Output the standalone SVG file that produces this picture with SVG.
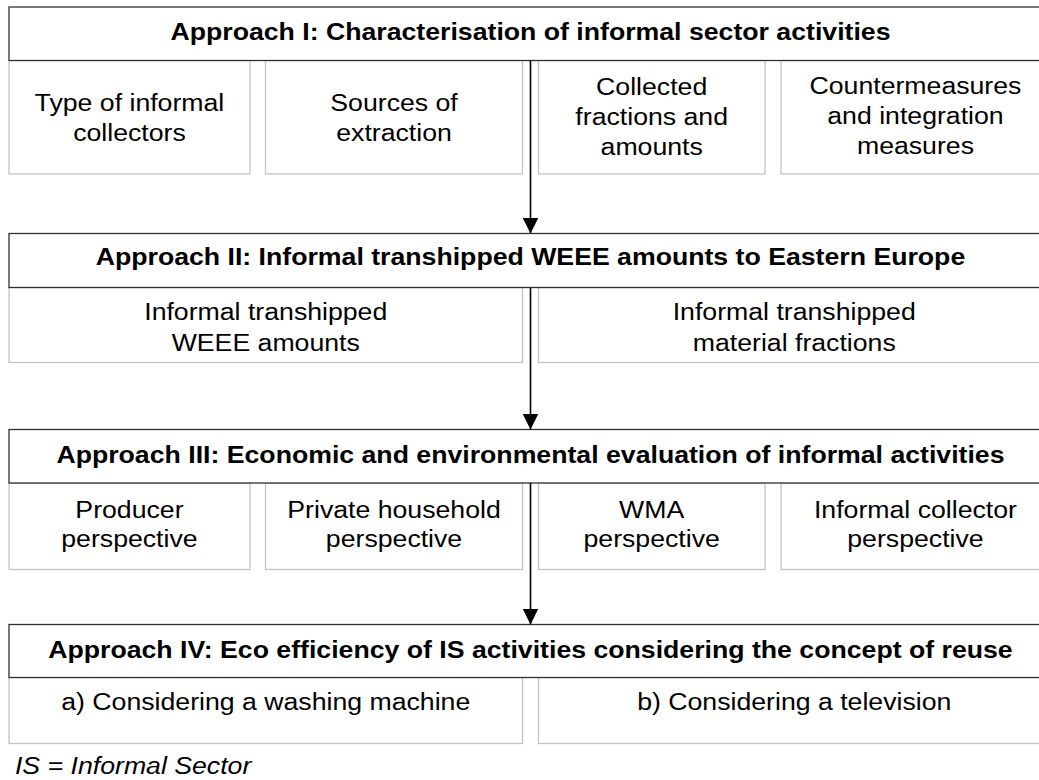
<svg xmlns="http://www.w3.org/2000/svg" width="1039" height="780" viewBox="0 0 1039 780">
  <style>
    .hdr { fill: #ffffff; stroke: #303030; stroke-width: 1.3; }
    .sub { fill: #ffffff; stroke: #c4c4c4; stroke-width: 1.3; }
    .t { font-family: "Liberation Sans", Arial, sans-serif; font-size: 23px; fill: #000000; text-anchor: middle; }
    .b { font-weight: bold; }
    .l { text-anchor: start; }
    .i { font-style: italic; }
    .link { stroke: #000000; stroke-width: 1.6; fill: none; }
  </style>
  <defs>
    <marker id="head" markerUnits="userSpaceOnUse" markerWidth="16" markerHeight="16" refX="16" refY="8" orient="auto">
      <path d="M0,0 L16,8 L0,16 z" fill="#000000"/>
    </marker>
  </defs>
  <rect width="1039" height="780" fill="#ffffff"/>

  <!-- Approach I -->
  <g id="approach1">
    <rect class="sub" x="9" y="60.5" width="241" height="113.5"/>
    <rect class="sub" x="265.5" y="60.5" width="257" height="113.5"/>
    <rect class="sub" x="538.5" y="60.5" width="226.5" height="113.5"/>
    <rect class="sub" x="781" y="60.5" width="269" height="113.5"/>
    <rect class="hdr" x="9" y="7" width="1043" height="53.5"/>
  </g>

  <!-- Approach II -->
  <g id="approach2">
    <rect class="sub" x="9" y="287.5" width="513.5" height="75"/>
    <rect class="sub" x="538.5" y="287.5" width="511.5" height="75"/>
    <rect class="hdr" x="9" y="233.5" width="1043" height="54"/>
  </g>

  <!-- Approach III -->
  <g id="approach3">
    <rect class="sub" x="9" y="483" width="241" height="86.5"/>
    <rect class="sub" x="265.5" y="483" width="257" height="86.5"/>
    <rect class="sub" x="538.5" y="483" width="226.5" height="86.5"/>
    <rect class="sub" x="781" y="483" width="269" height="86.5"/>
    <rect class="hdr" x="9" y="429.5" width="1043" height="53.5"/>
  </g>

  <!-- Approach IV -->
  <g id="approach4">
    <rect class="sub" x="9" y="677.5" width="513.5" height="66"/>
    <rect class="sub" x="538.5" y="677.5" width="511.5" height="66"/>
    <rect class="hdr" x="9" y="624.5" width="1043" height="53"/>
  </g>

  <!-- connectors between the approaches -->
  <g id="connectors">
    <line class="link" x1="530.5" y1="60.5" x2="530.5" y2="233.5" marker-end="url(#head)"/>
    <line class="link" x1="530.5" y1="287.5" x2="530.5" y2="429.5" marker-end="url(#head)"/>
    <line class="link" x1="530.5" y1="483" x2="530.5" y2="624.5" marker-end="url(#head)"/>
  </g>

  <!-- labels: set in a horizontally widened face, x positions given in the scaled frame -->
  <g id="labels" transform="scale(1.16 1)">
    <text class="t b" x="457.3" y="40">Approach I:  Characterisation of informal sector activities</text>
    <text class="t" x="111.6" y="111">Type of informal</text>
    <text class="t" x="111.6" y="141">collectors</text>
    <text class="t" x="339.7" y="111">Sources of</text>
    <text class="t" x="339.7" y="141">extraction</text>
    <text class="t" x="561.8" y="95">Collected</text>
    <text class="t" x="561.8" y="125">fractions and</text>
    <text class="t" x="561.8" y="155">amounts</text>
    <text class="t" x="789.2" y="94">Countermeasures</text>
    <text class="t" x="789.2" y="124">and integration</text>
    <text class="t" x="789.2" y="154">measures</text>

    <text class="t b" x="457.3" y="265">Approach II:  Informal transhipped WEEE amounts to Eastern Europe</text>
    <text class="t" x="229.1" y="320">Informal transhipped</text>
    <text class="t" x="229.1" y="351">WEEE amounts</text>
    <text class="t" x="684.7" y="320">Informal transhipped</text>
    <text class="t" x="684.7" y="351">material fractions</text>

    <text class="t b" x="457.3" y="463">Approach III:  Economic and environmental evaluation of informal activities</text>
    <text class="t" x="111.6" y="518">Producer</text>
    <text class="t" x="111.6" y="547">perspective</text>
    <text class="t" x="339.7" y="518">Private household</text>
    <text class="t" x="339.7" y="547">perspective</text>
    <text class="t" x="561.8" y="518">WMA</text>
    <text class="t" x="561.8" y="547">perspective</text>
    <text class="t" x="789.2" y="518">Informal collector</text>
    <text class="t" x="789.2" y="547">perspective</text>

    <text class="t b" x="457.3" y="658">Approach IV:  Eco efficiency of IS activities considering the concept of reuse</text>
    <text class="t" x="229.1" y="710">a) Considering a washing machine</text>
    <text class="t" x="684.7" y="710">b) Considering a television</text>

    <text class="t l i" x="12.9" y="774">IS = Informal Sector</text>
  </g>
</svg>
